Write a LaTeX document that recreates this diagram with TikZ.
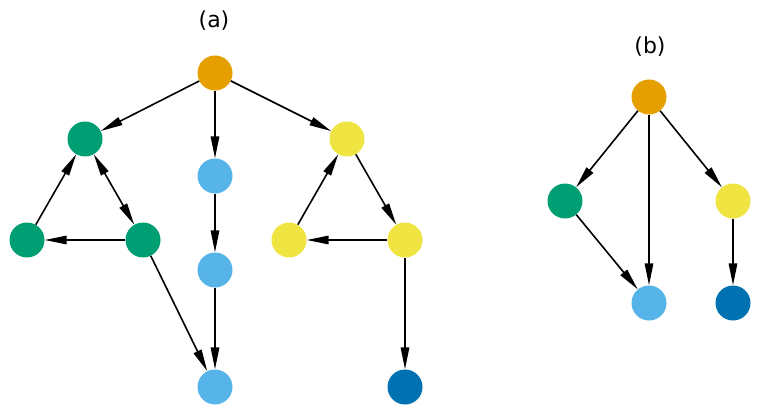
\documentclass[tikz,border=0pt]{standalone}
\usepackage{fontspec}
\setmainfont{DejaVu Sans}
\usetikzlibrary{arrows.meta}
\definecolor{cOrange}{HTML}{E69F00}
\definecolor{cGreen}{HTML}{009E73}
\definecolor{cBlue}{HTML}{56B4E9}
\definecolor{cYellow}{HTML}{F0E442}
\definecolor{cDark}{HTML}{0072B2}
\tikzset{
  vtx/.style={circle, inner sep=0pt, minimum size=35pt, draw=none, fill=#1},
  lnk/.style={line width=1.6pt, -{Triangle[length=22pt,width=8.5pt]}},
  blnk/.style={line width=1.6pt, {Triangle[length=22pt,width=8.5pt]}-{Triangle[length=22pt,width=8.5pt]}},
  lbl/.style={font=\fontsize{22}{26}\selectfont, inner sep=0pt}
}
\begin{document}
\begin{tikzpicture}[x=1pt,y=-1pt]
\useasboundingbox (0,0) rectangle (760,414);
% (a)
\node[lbl] (la) at (214,21) {(a)};
\node[vtx=cOrange] (o) at (215,73) {};
\node[vtx=cGreen] (g1) at (85,139) {};
\node[vtx=cBlue] (b1) at (215,176) {};
\node[vtx=cYellow] (y1) at (347,139) {};
\node[vtx=cGreen] (g2) at (27,240) {};
\node[vtx=cGreen] (g3) at (143,240) {};
\node[vtx=cBlue] (b2) at (215,270) {};
\node[vtx=cYellow] (y2) at (289,240) {};
\node[vtx=cYellow] (y3) at (405,240) {};
\node[vtx=cBlue] (b3) at (215,387) {};
\node[vtx=cDark] (d1) at (405,387) {};
\draw[lnk] (o) -- (g1);
\draw[lnk] (o) -- (b1);
\draw[lnk] (o) -- (y1);
\draw[blnk] (g1) -- (g3);
\draw[lnk] (g2) -- (g1);
\draw[lnk] (g3) -- (g2);
\draw[lnk] (g3) -- (b3);
\draw[lnk] (b1) -- (b2);
\draw[lnk] (b2) -- (b3);
\draw[lnk] (y1) -- (y3);
\draw[lnk] (y3) -- (y2);
\draw[lnk] (y2) -- (y1);
\draw[lnk] (y3) -- (d1);
% (b)
\node[lbl] (lb) at (650,47) {(b)};
\node[vtx=cOrange] (po) at (649,97) {};
\node[vtx=cGreen] (pg) at (565,201) {};
\node[vtx=cYellow] (py) at (733,201) {};
\node[vtx=cBlue] (pb) at (649,303) {};
\node[vtx=cDark] (pd) at (733,303) {};
\draw[lnk] (po) -- (pg);
\draw[lnk] (po) -- (pb);
\draw[lnk] (po) -- (py);
\draw[lnk] (pg) -- (pb);
\draw[lnk] (py) -- (pd);
\end{tikzpicture}
\end{document}
